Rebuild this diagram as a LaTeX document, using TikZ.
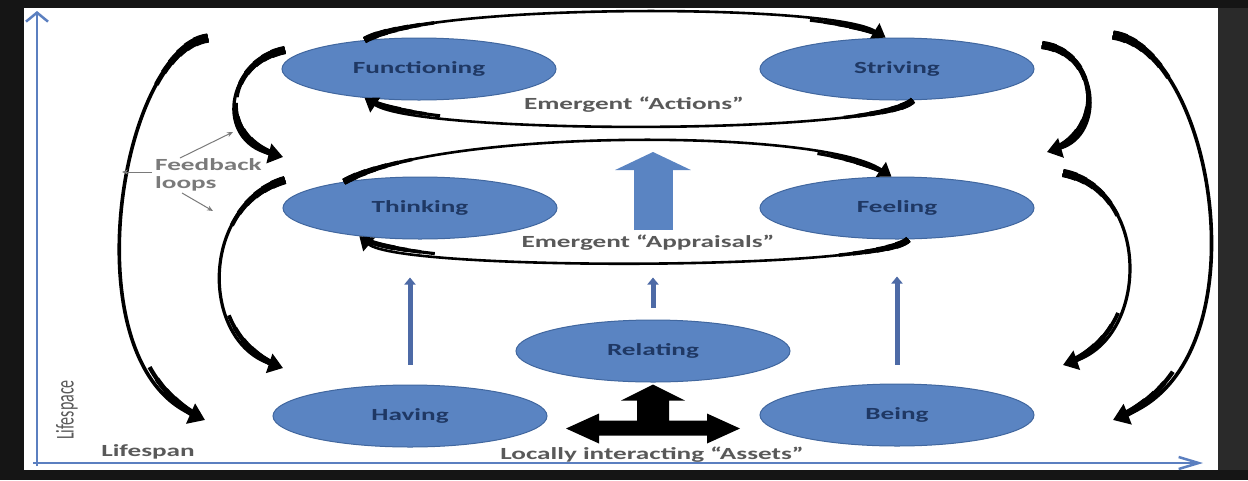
\documentclass[tikz,border=0pt]{standalone}
\usepackage{fontspec}
\setmainfont{Carlito}[FakeStretch=1.6]
\newfontfamily\uprightfont{Carlito}
\usepackage{graphicx}
\usetikzlibrary{arrows.meta, shapes.geometric, calc}

\definecolor{assetblue}{HTML}{5A84C2}
\definecolor{assetedge}{HTML}{41679F}
\definecolor{assettext}{HTML}{1F3864}
\definecolor{axisblue}{HTML}{5B7FC0}
\definecolor{riseblue}{HTML}{4D6AA6}
\definecolor{labelgray}{HTML}{595959}
\definecolor{notegray}{HTML}{7A7A7A}
\definecolor{screendark}{HTML}{151515}
\definecolor{screengray}{HTML}{2A2A2A}

% thick-thin-thick feedback arc: width, from, control 1, control 2, to
\newcommand{\taperarc}[5]{%
  \draw[loopline, line width=#1pt] (#2) .. controls (#3) and (#4) .. (#5);
  \foreach \f/\l in {2.6/14, 2.35/24, 2.1/34, 1.85/46, 1.6/58, 1.35/72}
    \draw[line width=#1pt*\f, dash pattern=on \l pt off 2000pt] (#2) .. controls (#3) and (#4) .. (#5);
  \foreach \f/\l in {1.9/26, 1.65/38, 1.4/52, 1.2/66}
    \draw[line width=#1pt*\f, dash pattern=on 0pt off 12pt on \l pt off 2000pt] (#5) .. controls (#4) and (#3) .. (#2);
}

\begin{document}
\begin{tikzpicture}[x=1pt, y=-1pt,
    asset/.style={ellipse, draw=assetedge, line width=1pt, fill=assetblue,
                  minimum width=274pt, minimum height=62pt, inner sep=0pt,
                  font=\fontsize{17}{20}\selectfont\bfseries, text=assettext},
    caption/.style={font=\fontsize{17}{20}\selectfont\bfseries, text=labelgray, inner sep=0pt},
    loopline/.style={-{Triangle[length=5pt 3, width=7pt 4]}},
    rise/.style={riseblue, line width=5pt, -{Triangle[length=7pt, width=11pt]}},
    bigrise/.style={assetblue, line width=39pt, -{Triangle[length=18pt, width=75pt]}},
    axis/.style={axisblue, line width=2.5pt},
    notearrow/.style={notegray, line width=1pt, -{Stealth[length=6pt, width=5pt]}}
  ]
  \useasboundingbox (0,0) rectangle (1248,480);
  % screen frame
  \fill[screendark] (0,0) rectangle (1248,480);
  \fill[screengray] (1218,8) rectangle (1248,470);
  \fill[white] (24,8) rectangle (1218,470);

  % axes
  \draw[axis, -{Straight Barb[length=9pt, width=22pt]}] (37,466) -- (37,11);
  \draw[axis, -{Straight Barb[length=20pt, width=12pt]}] (33,463) -- (1203,463);
  \node[rotate=90, text=labelgray, inner sep=0pt, font=\fontsize{16}{18}\selectfont]
    (spacelbl) at (67,410) {\scalebox{1}[1.6]{\uprightfont Lifespace}};
  \node[caption] (spanlbl) at (148,452) {Lifespan};

  % assets
  \node[asset] (fun) at (419,69) {Functioning};
  \node[asset] (str) at (897,69) {Striving};
  \node[asset] (thi) at (420,208) {Thinking};
  \node[asset] (fee) at (897,208) {Feeling};
  \node[asset] (rel) at (653,351) {Relating};
  \node[asset] (hav) at (410,416) {Having};
  \node[asset] (bei) at (897,415) {Being};

  \node[caption] (actlbl) at (634,105) {Emergent “Actions”};
  \node[caption] (applbl) at (648,243) {Emergent “Appraisals”};
  \node[caption] (asslbl) at (652,455) {Locally interacting “Assets”};

  % emergence loops
  \taperarc{2.6}{fun.152}{430,3}{830,3}{str.110}
  \taperarc{2.6}{str.297}{880,135}{420,135}{fun.208}
  \taperarc{2.6}{thi.161}{440,128}{820,128}{fee.100}
  \taperarc{2.6}{fee.290}{880,271}{400,271}{thi.205}

  % upward arrows
  \draw[rise, shorten <=20pt, shorten >=38pt] (hav.north) -- (hav.north |- thi.south);
  \draw[rise, shorten <=12pt, shorten >=38pt] (rel.north) -- (rel.north |- thi.south);
  \draw[rise, shorten <=19pt, shorten >=37pt] (bei.north) -- (bei.north |- fee.south);
  \coordinate (bigtail) at (653,230);
  \coordinate (bighead) at (653,152);
  \draw[bigrise] (bigtail) -- (bighead);

  % interaction arrow under Relating
  \begin{scope}[shift={(rel.south)}]
    \fill[black] (0,2) -- (32,18) -- (16,18) -- (16,38) -- (54,38) -- (54,31)
      -- (87,46) -- (54,61) -- (54,53) -- (-54,53) -- (-54,61) -- (-87,46)
      -- (-54,31) -- (-54,38) -- (-16,38) -- (-16,18) -- (-32,18) -- cycle;
  \end{scope}

  % feedback loops
  \coordinate (lo1) at (208,38);  \coordinate (lo2) at (205,420);
  \coordinate (lu1) at (285,50);  \coordinate (lu2) at (283,157);
  \coordinate (ll1) at (285,180); \coordinate (ll2) at (283,368);
  \coordinate (ro1) at (1113,35); \coordinate (ro2) at (1113,420);
  \coordinate (ru1) at (1042,45); \coordinate (ru2) at (1047,152);
  \coordinate (rl1) at (1063,173);\coordinate (rl2) at (1063,365);
  \taperarc{3.6}{lo1}{120,50}{70,360}{lo2}
  \taperarc{3.2}{lu1}{225,62}{215,140}{lu2}
  \taperarc{3.2}{ll1}{200,205}{200,340}{ll2}
  \taperarc{3.6}{ro1}{1215,50}{1265,360}{ro2}
  \taperarc{3.2}{ru1}{1100,52}{1105,135}{ru2}
  \taperarc{3.2}{rl1}{1150,190}{1150,335}{rl2}

  \node[caption, text=notegray, align=left, anchor=north west,
        font=\fontsize{17}{18}\selectfont\bfseries] (fbnote) at (155,158) {Feedback\\loops};
  \draw[notearrow] ($(fbnote.north west)+(25,0)$) -- ++(53,-26);
  \draw[notearrow] ($(fbnote.north west)+(-3,14)$) -- ++(-30,0);
  \draw[notearrow] ($(fbnote.south west)+(27,2)$) -- ++(31,18);
\end{tikzpicture}
\end{document}
